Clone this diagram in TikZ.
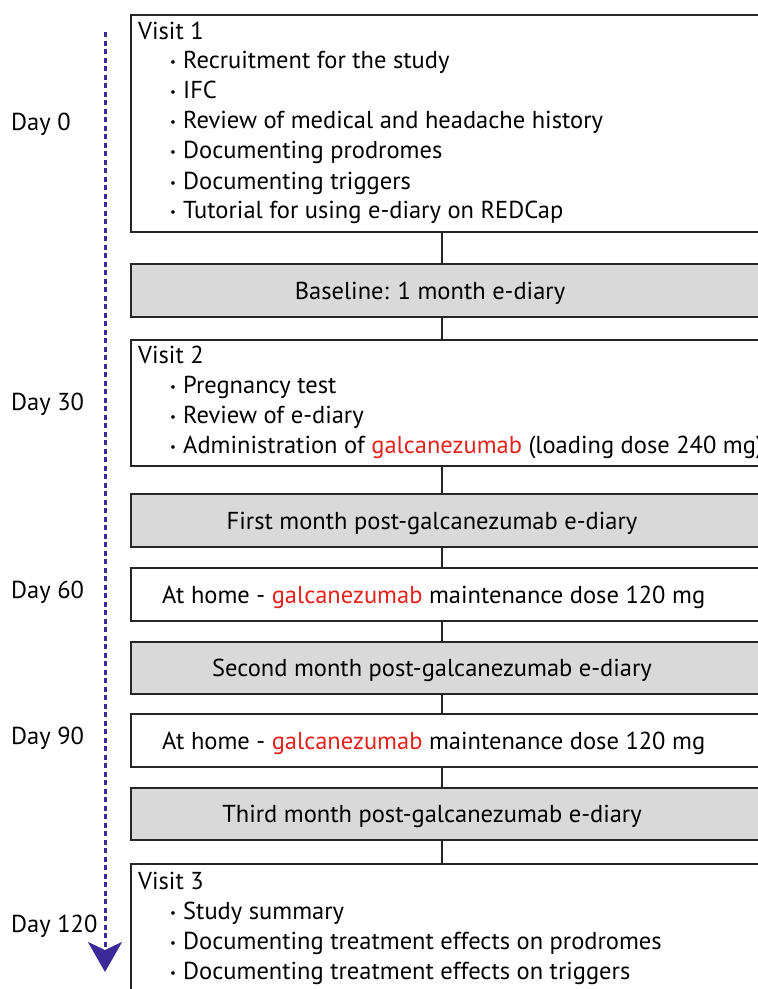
\documentclass[tikz,border=0pt]{standalone}
\usepackage{fontspec}
\setmainfont{PT Sans}
\usetikzlibrary{arrows.meta}
\definecolor{arrowblue}{HTML}{3B2A98}
\definecolor{galred}{HTML}{E3221C}
\definecolor{boxgray}{HTML}{D9D9D9}
\newcommand{\bul}{\makebox[13pt][l]{\raisebox{2.5pt}{\fontsize{13}{13}\selectfont •}}}
\begin{document}
\begin{tikzpicture}[x=1pt,y=-1pt,
  box/.style={draw=black!85, line width=1.6pt, anchor=north west, minimum width=700pt, inner sep=0pt},
  graybox/.style={box, fill=boxgray},
  txt/.style={anchor=west, inner sep=0pt, text height=17pt, text depth=0pt, font=\fontsize{24.5}{28}\selectfont},
  ctxt/.style={txt, anchor=center},
  conn/.style={draw=black!85, line width=1.4pt}]
\useasboundingbox (0,0) rectangle (758,989);
\clip (0,0) rectangle (758,989);
% boxes
\node[box, minimum height=217pt] (v1) at (130,14) {};
\node[graybox, minimum height=53pt] (base) at (130,263) {};
\node[box, minimum height=126pt] (v2) at (130,339) {};
\node[graybox, minimum height=53pt] (m1) at (130,493) {};
\node[box, minimum height=53pt] (h1) at (130,567) {};
\node[graybox, minimum height=52pt] (m2) at (130,641) {};
\node[box, minimum height=53pt] (h2) at (130,713) {};
\node[graybox, minimum height=52pt] (m3) at (130,787) {};
\node[box, minimum height=200pt] (v3) at (130,863) {};
% connectors
\coordinate (cx) at (442,0);
\draw[conn] (v1.south -| cx) -- (base.north -| cx);
\draw[conn] (base.south -| cx) -- (v2.north -| cx);
\draw[conn] (v2.south -| cx) -- (m1.north -| cx);
\draw[conn] (m1.south -| cx) -- (h1.north -| cx);
\draw[conn] (h1.south -| cx) -- (m2.north -| cx);
\draw[conn] (m2.south -| cx) -- (h2.north -| cx);
\draw[conn] (h2.south -| cx) -- (m3.north -| cx);
\draw[conn] (m3.south -| cx) -- (v3.north -| cx);
% timeline
\coordinate (ta) at (105,32);
\coordinate (tb) at (105,972);
\draw[arrowblue, line width=3pt, dash pattern=on 5pt off 3.5pt, -{Stealth[length=30pt,width=34pt,inset=8pt]}] (ta) -- (tb);
% day labels
\node[txt] (d0) at (11,122) {Day 0};
\node[txt] (d30) at (11,402) {Day 30};
\node[txt] (d60) at (11,590) {Day 60};
\node[txt] (d90) at (11,736) {Day 90};
\node[txt] (d120) at (11,924) {Day 120};
% visit 1
\node[txt] (v1h) at (138,31) {Visit 1};
\node[txt] (v1a) at (170,60) {\bul Recruitment for the study};
\node[txt] (v1b) at (170,90) {\bul IFC};
\node[txt] (v1c) at (170,120) {\bul Review of medical and headache history};
\node[txt] (v1d) at (170,150) {\bul Documenting prodromes};
\node[txt] (v1e) at (170,181) {\bul Documenting triggers};
\node[txt] (v1f) at (170,210) {\bul Tutorial for using e-diary on REDCap};
% baseline
\node[ctxt] (baset) at (430,291) {Baseline: 1 month e-diary};
% visit 2
\node[txt] (v2h) at (138,355) {Visit 2};
\node[txt] (v2a) at (170,385) {\bul Pregnancy test};
\node[txt] (v2b) at (170,415) {\bul Review of e-diary};
\node[txt] (v2c) at (170,445) {\bul Administration of \textcolor{galred}{galcanezumab} (loading dose 240 mg)};
% months
\node[ctxt] (m1t) at (432,521) {First month post-galcanezumab e-diary};
\node[txt] (h1t) at (162,595) {At home - \textcolor{galred}{galcanezumab} maintenance dose 120 mg};
\node[ctxt] (m2t) at (432,668) {Second month post-galcanezumab e-diary};
\node[txt] (h2t) at (162,741) {At home - \textcolor{galred}{galcanezumab} maintenance dose 120 mg};
\node[ctxt] (m3t) at (432,814) {Third month post-galcanezumab e-diary};
% visit 3
\node[txt] (v3h) at (138,881) {Visit 3};
\node[txt] (v3a) at (170,911) {\bul Study summary};
\node[txt] (v3b) at (170,941) {\bul Documenting treatment effects on prodromes};
\node[txt] (v3c) at (170,971) {\bul Documenting treatment effects on triggers};
\end{tikzpicture}
\end{document}
